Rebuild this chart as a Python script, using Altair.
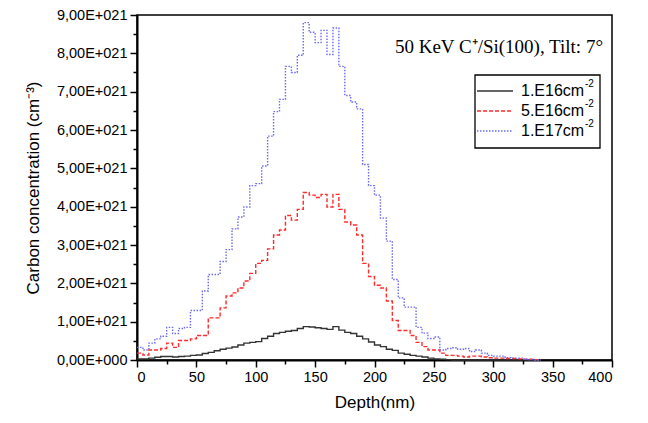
import altair as alt
import pandas as pd

depth = list(range(0, 345, 5))

dose_1e16 = [0.03, 0.03, 0.05, 0.07, 0.09, 0.09, 0.08, 0.09, 0.10, 0.12,
             0.13, 0.17, 0.20, 0.24, 0.28, 0.31, 0.34, 0.39, 0.44, 0.46,
             0.48, 0.56, 0.62, 0.69, 0.72, 0.75, 0.77, 0.82, 0.87, 0.86,
             0.84, 0.82, 0.80, 0.87, 0.78, 0.72, 0.69, 0.62, 0.55, 0.47,
             0.39, 0.35, 0.28, 0.25, 0.18, 0.15, 0.12, 0.10, 0.08, 0.05,
             0.03, 0.02, 0.01, 0.0, 0.0, 0.0, 0.0, 0.0, 0.0, 0.0,
             0.0, 0.0, 0.0, 0.0, 0.0, 0.0, 0.0, 0.0, 0.0]

dose_5e16 = [0.18, 0.13, 0.26, 0.26, 0.30, 0.44, 0.33, 0.51, 0.51, 0.55,
             0.64, 0.64, 1.10, 1.10, 1.36, 1.67, 1.75, 1.88, 2.06, 2.26,
             2.52, 2.60, 2.90, 3.26, 3.39, 3.77, 3.65, 3.93, 4.37, 4.30,
             4.24, 4.32, 3.99, 4.32, 3.93, 3.60, 3.52, 3.26, 2.52, 2.18,
             1.95, 1.88, 1.54, 1.03, 0.77, 0.77, 0.64, 0.46, 0.35, 0.26,
             0.26, 0.18, 0.12, 0.12, 0.10, 0.08, 0.10, 0.10, 0.08, 0.06,
             0.05, 0.05, 0.04, 0.04, 0.03, 0.02, 0.02, 0.01, 0.0]

dose_1e17 = [0.33, 0.26, 0.44, 0.55, 0.62, 0.85, 0.69, 0.82, 0.85, 1.29,
             1.29, 1.80, 2.23, 2.23, 2.57, 2.88, 3.42, 3.73, 3.99, 4.55,
             4.60, 5.06, 5.84, 6.48, 6.80, 7.66, 7.50, 7.95, 8.80, 8.55,
             8.28, 8.60, 7.97, 8.66, 7.66, 6.90, 6.73, 6.55, 5.10, 4.55,
             4.30, 3.70, 3.10, 2.10, 1.62, 1.38, 1.38, 0.85, 0.70, 0.56,
             0.60, 0.26, 0.30, 0.32, 0.28, 0.30, 0.22, 0.26, 0.18, 0.12,
             0.10, 0.10, 0.06, 0.05, 0.05, 0.02, 0.01, 0.0, 0.0]

series_names = ["1.E16cm", "5.E16cm", "1.E17cm"]
series_sup = ["-2", "-2", "-2"]
series_colors = ["#333333", "#ff2a2a", "#6b6bf0"]
series_dashes = [[1, 0], [4, 2], [1.5, 1.5]]

x_ticks = list(range(0, 425, 25))
y_ticks = [i * 0.5 for i in range(19)]

rows = []
for name, vals in zip(series_names, [dose_1e16, dose_5e16, dose_1e17]):
    for d, v in zip(depth, vals):
        rows.append({"depth": d, "conc": v, "series": name})
df = pd.DataFrame(rows)

lines = alt.Chart(df).mark_line(interpolate="step-after", strokeWidth=1.4).encode(
    x=alt.X("depth:Q", scale=alt.Scale(domain=[0, 400], nice=False),
            axis=alt.Axis(values=x_ticks, title="Depth(nm)",
                          labelExpr="datum.value % 50 ? '' : datum.label",
                          tickSize={"condition": {"test": "datum.value % 50 === 0", "value": 7}, "value": 4},
                          grid=False)),
    y=alt.Y("conc:Q", scale=alt.Scale(domain=[0, 9], nice=False),
            axis=alt.Axis(values=y_ticks, title="Carbon concentration (cm\u207b\u00b3)",
                          labelExpr="datum.value % 1 ? '' : replace(format(datum.value, '.2f'), '.', ',') + (datum.value == 0 ? 'E+000' : 'E+021')",
                          tickSize={"condition": {"test": "datum.value % 1 === 0", "value": 7}, "value": 4},
                          grid=False)),
    color=alt.Color("series:N", scale=alt.Scale(domain=series_names, range=series_colors), legend=None),
    strokeDash=alt.StrokeDash("series:N", scale=alt.Scale(domain=series_names, range=series_dashes), legend=None),
)

# plot origin in page coordinates
PL, PT = 137, 15

note = alt.Chart(pd.DataFrame({"t": ["50 KeV C\u207a/Si(100), Tilt: 7\u00b0"]})).mark_text(
    align="right", baseline="middle", font="Liberation Serif", fontSize=19, color="black"
).encode(text="t:N", x=alt.value(603 - PL), y=alt.value(47 - PT))

box = alt.Chart(pd.DataFrame({"a": [0]})).mark_rect(
    fill="white", stroke="black", strokeWidth=1.3
).encode(x=alt.value(475 - PL), x2=alt.value(600 - PL), y=alt.value(75 - PT), y2=alt.value(148 - PT))

legend_layers = [box]
row_y = [91, 111, 131]
for name, sup, col, dash, ry in zip(series_names, series_sup, series_colors, series_dashes, row_y):
    one = pd.DataFrame({"s": [name], "sup": [sup]})
    legend_layers.append(
        alt.Chart(one).mark_rule(color=col, strokeDash=dash, strokeWidth=1.4).encode(
            x=alt.value(477 - PL), x2=alt.value(513 - PL), y=alt.value(ry - PT)))
    legend_layers.append(
        alt.Chart(one).mark_text(align="left", baseline="middle", font="Liberation Sans",
                                 fontSize=16, color="black").encode(
            text="s:N", x=alt.value(521 - PL), y=alt.value(ry - PT)))
    legend_layers.append(
        alt.Chart(one).mark_text(align="left", baseline="middle", font="Liberation Sans",
                                 fontSize=10, color="black").encode(
            text="sup:N", x=alt.value(585 - PL), y=alt.value(ry - 7 - PT)))

chart = alt.layer(lines, note, *legend_layers).properties(
    width=475, height=345,
    autosize=alt.AutoSizeParams(type="none"),
    padding={"left": PL - 8, "top": PT - 8, "right": 28, "bottom": 55},
).configure_view(stroke="black", strokeWidth=1.5).configure_axis(
    labelFont="Liberation Sans", labelFontSize=14.5, labelColor="black",
    titleFont="Liberation Sans", titleFontSize=17, titleFontWeight="normal", titleColor="black",
    domainColor="black", domainWidth=2, tickColor="black", tickWidth=1.5,
    labelPadding=3,
).configure_axisY(titlePadding=14).configure_axisX(titlePadding=11)

chart.save("out.html", embed_options={"renderer": "svg", "actions": False})
